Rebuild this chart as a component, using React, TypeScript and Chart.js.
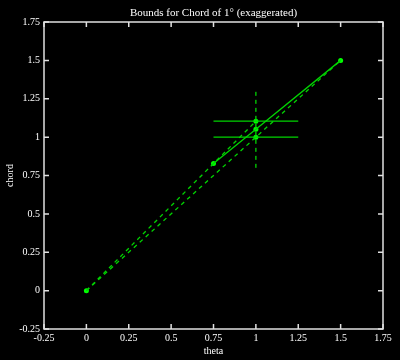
import React, { useEffect, useRef } from "react";
import { Chart, registerables } from "chart.js";

Chart.register(...registerables);

const titleText = "Bounds for Chord of 1° (exaggerated)";
const xLabel = "theta";
const yLabel = "chord";

const axisMin = -0.25;
const axisMax = 1.75;
const axisStep = 0.25;
const tickLabels = ["-0.25", "0", "0.25", "0.5", "0.75", "1", "1.25", "1.5", "1.75"];

// upper dashed bound: through origin and chord at 0.75, extended to theta = 1
const upperThetas = [0, 0.75, 1];
const upperChords = [0, 0.828, 1.104];
// lower dashed bound: through origin and chord at 1.5
const lowerThetas = [0, 1, 1.5];
const lowerChords = [0, 1, 1.5];
// solid chord curve
const curveThetas = [0.75, 1, 1.5];
const curveChords = [0.828, 1.052, 1.5];
// horizontal bound bars
const barThetas = [0.75, 1.25];
const barHigh = [1.104, 1.104];
const barLow = [1, 1];
// vertical dashed marker
const vertThetas = [1, 1];
const vertChords = [0.8, 1.3];
// points
const pointThetas = [0, 0.75, 1, 1, 1, 1.5];
const pointChords = [0, 0.828, 1, 1.052, 1.104, 1.5];

const LINE = "#00d400";
const POINT = "#00ff00";
const FONT = "'Liberation Serif', 'DejaVu Serif', serif";

const zip = (xs: number[], ys: number[]) => xs.map((x, i) => ({ x, y: ys[i] }));
const tickText = (_v: any, i: number) => tickLabels[i] ?? "";

const frame = {
  id: "frame",
  beforeDraw(chart: any) {
    const { ctx } = chart;
    ctx.save();
    ctx.fillStyle = "#000";
    ctx.fillRect(0, 0, chart.width, chart.height);
    ctx.restore();
  },
  afterDraw(chart: any) {
    const { ctx, chartArea: a } = chart;
    const xs = chart.scales.x;
    const ys = chart.scales.y;
    ctx.save();
    ctx.strokeStyle = "#e0e0e0";
    ctx.lineWidth = 1.5;
    ctx.strokeRect(a.left, a.top, a.right - a.left, a.bottom - a.top);
    const len = 5;
    ctx.beginPath();
    xs.ticks.forEach((t: any) => {
      const px = xs.getPixelForValue(t.value);
      ctx.moveTo(px, a.bottom);
      ctx.lineTo(px, a.bottom - len);
      ctx.moveTo(px, a.top);
      ctx.lineTo(px, a.top + len);
    });
    ys.ticks.forEach((t: any) => {
      const py = ys.getPixelForValue(t.value);
      ctx.moveTo(a.left, py);
      ctx.lineTo(a.left + len, py);
      ctx.moveTo(a.right, py);
      ctx.lineTo(a.right - len, py);
    });
    ctx.stroke();
    ctx.fillStyle = "#ffffff";
    ctx.font = `11px ${FONT}`;
    ctx.textAlign = "center";
    ctx.textBaseline = "middle";
    ctx.fillText(titleText, (a.left + a.right) / 2, 13);
    ctx.restore();
  },
};

export default function App() {
  const ref = useRef<HTMLCanvasElement>(null);
  useEffect(() => {
    document.body.style.margin = "0";
    document.body.style.background = "#000";
    const lineDs = (label: string, xs: number[], ys: number[], dashed: boolean) => ({
      label,
      data: zip(xs, ys),
      showLine: true,
      borderColor: LINE,
      borderWidth: 1.3,
      borderDash: dashed ? [4, 4] : [],
      pointRadius: 0,
      pointHoverRadius: 0,
      fill: false,
    });
    const chart = new Chart(ref.current!, {
      type: "scatter",
      data: {
        datasets: [
          lineDs("upper", upperThetas, upperChords, true),
          lineDs("lower", lowerThetas, lowerChords, true),
          lineDs("curve", curveThetas, curveChords, false),
          lineDs("barHigh", barThetas, barHigh, false),
          lineDs("barLow", barThetas, barLow, false),
          lineDs("vert", vertThetas, vertChords, true),
          {
            label: "points",
            data: zip(pointThetas, pointChords),
            showLine: false,
            pointRadius: 2.5,
            pointBackgroundColor: POINT,
            pointBorderColor: POINT,
            pointBorderWidth: 0,
          },
        ],
      },
      options: {
        responsive: false,
        animation: false,
        layout: { padding: { top: 22, right: 17, bottom: 0, left: 0 } },
        plugins: {
          legend: { display: false },
          title: { display: false },
          tooltip: { enabled: false },
        },
        scales: {
          x: {
            type: "linear",
            min: axisMin,
            max: axisMax,
            grid: { display: false, drawTicks: false },
            border: { display: false },
            ticks: {
              stepSize: axisStep,
              color: "#ffffff",
              font: { family: FONT, size: 10 },
              padding: 3,
              maxRotation: 0,
              autoSkip: false,
              callback: tickText,
            },
            title: {
              display: true,
              text: xLabel,
              color: "#ffffff",
              font: { family: FONT, size: 10 },
              padding: { top: 3, bottom: 3 },
            },
            afterFit: (s: any) => {
              s.height = 31;
            },
          },
          y: {
            type: "linear",
            min: axisMin,
            max: axisMax,
            grid: { display: false, drawTicks: false },
            border: { display: false },
            ticks: {
              stepSize: axisStep,
              color: "#ffffff",
              font: { family: FONT, size: 10 },
              padding: 4,
              autoSkip: false,
              callback: tickText,
            },
            title: {
              display: true,
              text: yLabel,
              color: "#ffffff",
              font: { family: FONT, size: 10 },
              padding: { top: 4, bottom: 4 },
            },
            afterFit: (s: any) => {
              s.width = 44;
            },
          },
        },
      },
      plugins: [frame],
    } as any);
    return () => chart.destroy();
  }, []);
  return (
    <div style={{ position: "fixed", left: 0, top: 0, width: 400, height: 360, background: "#000" }}>
      <canvas ref={ref} width={400} height={360} style={{ display: "block", width: 400, height: 360 }} />
    </div>
  );
}
